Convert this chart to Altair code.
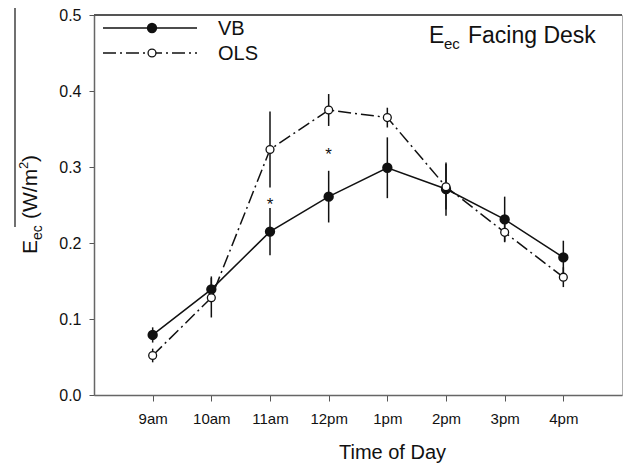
import json
import altair as alt
import pandas as pd

# ---- data ----
times = ["9am", "10am", "11am", "12pm", "1pm", "2pm", "3pm", "4pm"]
vb_mean = [0.079, 0.139, 0.215, 0.261, 0.299, 0.271, 0.231, 0.181]
vb_err = [0.010, 0.017, 0.031, 0.034, 0.040, 0.035, 0.030, 0.022]
ols_mean = [0.052, 0.128, 0.323, 0.375, 0.365, 0.274, 0.214, 0.155]
ols_err = [0.009, 0.026, 0.050, 0.021, 0.013, 0.030, 0.012, 0.013]
star_times = ["11am", "12pm"]
star_values = [0.257, 0.323]
y_ticks = [0.0, 0.1, 0.2, 0.3, 0.4, 0.5]

rows = []
for i, t in enumerate(times):
    rows.append(dict(time=t, pos=i + 1, series="VB", mean=vb_mean[i],
                     lo=vb_mean[i] - vb_err[i], hi=vb_mean[i] + vb_err[i]))
    rows.append(dict(time=t, pos=i + 1, series="OLS", mean=ols_mean[i],
                     lo=ols_mean[i] - ols_err[i], hi=ols_mean[i] + ols_err[i]))
df = pd.DataFrame(rows)
df_star = pd.DataFrame({"pos": [times.index(t) + 1 for t in star_times],
                        "val": star_values, "txt": ["*"] * len(star_times)})
one = pd.DataFrame({"k": [0]})

FONT = "Liberation Sans"
INK = "#111111"
DASH = [13, 4, 2, 4]

xaxis = alt.Axis(values=list(range(1, len(times) + 1)),
                 labelExpr=json.dumps(times) + "[datum.value - 1]",
                 title="Time of Day", titleFontSize=20, titleFont=FONT,
                 titleFontWeight="normal", titleColor=INK,
                 titleX=298, titleY=63, titleBaseline="alphabetic",
                 labelFont=FONT, labelFontSize=15, labelColor=INK,
                 labelPadding=10, tickSize=6, tickColor="#555",
                 domainColor="#666", domainWidth=1.5, grid=False)
yaxis = alt.Axis(values=y_ticks, format=".1f", title=None,
                 labelFont=FONT, labelFontSize=16, labelColor=INK,
                 labelPadding=8, tickSize=5, tickColor="#555",
                 domainColor="#666", domainWidth=1.5, grid=False)

X = alt.X("pos:Q", scale=alt.Scale(domain=[0, len(times) + 1]), axis=xaxis)
Y = alt.Y("mean:Q", scale=alt.Scale(domain=[0, 0.5]), axis=yaxis)

base = alt.Chart(df)

vb_line = base.transform_filter("datum.series == 'VB'").mark_line(
    color=INK, strokeWidth=1.5).encode(x=X, y=Y)
ols_line = base.transform_filter("datum.series == 'OLS'").mark_line(
    color=INK, strokeWidth=1.5, strokeDash=DASH).encode(x=X, y=Y)
errs = base.mark_rule(color=INK, strokeWidth=1.5).encode(
    x="pos:Q", y="lo:Q", y2="hi:Q")
vb_pts = base.transform_filter("datum.series == 'VB'").mark_point(
    shape="circle", filled=True, fill=INK, stroke=INK, size=70, opacity=1).encode(x="pos:Q", y="mean:Q")
ols_pts = base.transform_filter("datum.series == 'OLS'").mark_point(
    shape="circle", filled=True, fill="white", stroke=INK, strokeWidth=1.3,
    size=62, opacity=1).encode(x="pos:Q", y="mean:Q")
stars = alt.Chart(df_star).mark_text(font=FONT, fontSize=17, color=INK,
                                     baseline="alphabetic", dy=10).encode(
    x="pos:Q", y="val:Q", text="txt:N")

ann = alt.Chart(one)

# top frame line
top_rule = ann.mark_rule(color="#555", strokeWidth=2).encode(
    x=alt.value(0), x2=alt.value(528), y=alt.value(0))

# legend
leg_vb_line = ann.mark_rule(color=INK, strokeWidth=1.5).encode(
    x=alt.value(9), x2=alt.value(103), y=alt.value(13))
leg_vb_pt = ann.mark_point(shape="circle", filled=True, fill=INK, stroke=INK,
                           size=70, opacity=1).encode(x=alt.value(58), y=alt.value(13))
leg_vb_txt = ann.mark_text(text="VB", font=FONT, fontSize=20, color=INK,
                           align="left", baseline="middle").encode(
    x=alt.value(124), y=alt.value(14))
leg_ols_line = ann.mark_rule(color=INK, strokeWidth=1.5, strokeDash=DASH).encode(
    x=alt.value(9), x2=alt.value(103), y=alt.value(38))
leg_ols_pt = ann.mark_point(shape="circle", filled=True, fill="white", stroke=INK,
                            strokeWidth=1.3, size=62, opacity=1).encode(
    x=alt.value(58), y=alt.value(38))
leg_ols_txt = ann.mark_text(text="OLS", font=FONT, fontSize=20, color=INK,
                            align="left", baseline="middle").encode(
    x=alt.value(124), y=alt.value(39))

# in-plot title "E_ec Facing Desk"
t_E = ann.mark_text(text="E", font=FONT, fontSize=23, color=INK, align="left",
                    baseline="alphabetic").encode(x=alt.value(335), y=alt.value(28))
t_ec = ann.mark_text(text="ec", font=FONT, fontSize=15, color=INK, align="left",
                     baseline="alphabetic").encode(x=alt.value(350), y=alt.value(34))
t_rest = ann.mark_text(text="Facing Desk", font=FONT, fontSize=23, color=INK,
                       align="left", baseline="alphabetic").encode(
    x=alt.value(374), y=alt.value(28))

# rotated y-axis title "E_ec (W/m^2)" with overline
def ytxt(s, size, xv, yv):
    return ann.mark_text(text=s, font=FONT, fontSize=size, color=INK, angle=270,
                         align="left", baseline="alphabetic").encode(
        x=alt.value(xv), y=alt.value(yv))

y_E = ytxt("E", 21, -57, 239)
y_ec = ytxt("ec", 14, -52, 225)
y_unit = ytxt("(W/m", 21, -57, 204)
y_sup = ytxt("2", 13, -66, 154)
y_close = ytxt(")", 21, -57, 147)
y_over = ann.mark_rule(color=INK, strokeWidth=1.2).encode(
    x=alt.value(-79), y=alt.value(-7), y2=alt.value(212))

chart = alt.layer(
    vb_line, ols_line, errs, vb_pts, ols_pts, stars, top_rule,
    leg_vb_line, leg_vb_pt, leg_vb_txt, leg_ols_line, leg_ols_pt, leg_ols_txt,
    t_E, t_ec, t_rest, y_E, y_ec, y_unit, y_sup, y_close, y_over,
).properties(
    width=528, height=380,
    padding={"left": 94, "top": 15, "right": 3, "bottom": 72},
    autosize="none", background="white",
).configure_view(stroke="#b0b0b0", strokeWidth=1)

chart.save("out.html", embed_options={"renderer": "svg", "actions": False})
